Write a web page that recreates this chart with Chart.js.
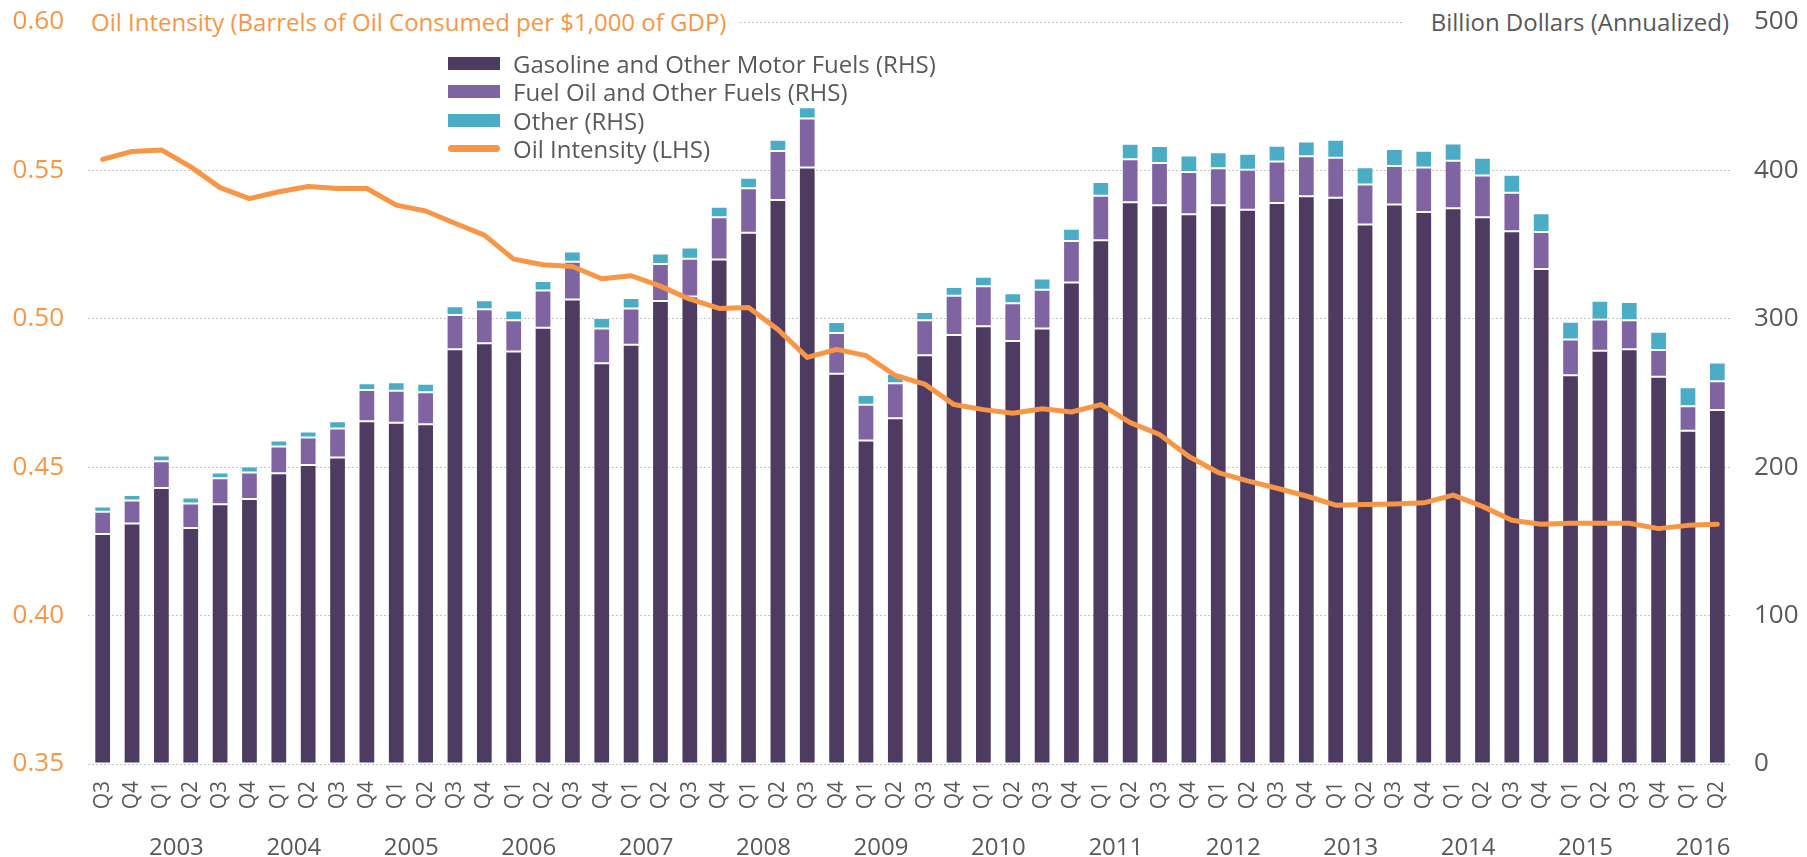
<!DOCTYPE html>
<html>
<head>
<meta charset="utf-8">
<script src="https://cdn.jsdelivr.net/npm/chart.js@4.4.0/dist/chart.umd.min.js"></script>
<style>
    body { margin: 0; background: #fff; }
    #wrap { position: relative; width: 1807px; height: 857px; font-family: "Open Sans", sans-serif; }
    canvas { display: block; }
    .ttl { position: absolute; top: 5px; height: 34px; line-height: 34px; font-size: 24px; background: #fff; white-space: nowrap; }
    #ttlLeft { left: 88px; width: 650px; padding-left: 3px; color: #F79646; box-sizing: border-box; }
    #ttlRight { left: 1404px; width: 328px; text-align: right; color: #58595b; padding-right: 3px; box-sizing: border-box; }
    #legend { position: absolute; left: 448px; top: 49px; font-size: 24px; color: #58595b; }
    .row { height: 28.5px; display: flex; align-items: center; white-space: nowrap; }
    .sw { width: 52px; height: 13px; margin-right: 13px; }
    .ln { width: 52px; height: 7px; border-radius: 4px; margin-right: 13px; }
</style>
</head>
<body>
<div id="wrap">
    <canvas id="oilChart" width="1807" height="857"></canvas>
    <div class="ttl" id="ttlLeft">Oil Intensity (Barrels of Oil Consumed per $1,000 of GDP)</div>
    <div class="ttl" id="ttlRight">Billion Dollars (Annualized)</div>
    <div id="legend"></div>
</div>
<script>
// quarters from 2002 Q3 to 2016 Q2
const quarters = ['Q3','Q4',
    'Q1','Q2','Q3','Q4', 'Q1','Q2','Q3','Q4', 'Q1','Q2','Q3','Q4', 'Q1','Q2','Q3','Q4',
    'Q1','Q2','Q3','Q4', 'Q1','Q2','Q3','Q4', 'Q1','Q2','Q3','Q4', 'Q1','Q2','Q3','Q4',
    'Q1','Q2','Q3','Q4', 'Q1','Q2','Q3','Q4', 'Q1','Q2','Q3','Q4', 'Q1','Q2','Q3','Q4',
    'Q1','Q2','Q3','Q4', 'Q1','Q2'];
const years = [2002,2002,
    2003,2003,2003,2003, 2004,2004,2004,2004, 2005,2005,2005,2005, 2006,2006,2006,2006,
    2007,2007,2007,2007, 2008,2008,2008,2008, 2009,2009,2009,2009, 2010,2010,2010,2010,
    2011,2011,2011,2011, 2012,2012,2012,2012, 2013,2013,2013,2013, 2014,2014,2014,2014,
    2015,2015,2015,2015, 2016,2016];

// billion dollars, annualized (RHS)
const gasoline = [155,162,186,159,175,178.5, 196,201.5,206.5,231, 230,229,279.5,283.5,
    278,294,313,270, 282.5,312,315,340, 358,380,402,263, 218,233,275.5,289,
    295,285,293.5,324.5, 353,378.5,376.5,370.5, 376.5,373.5,378,382.5, 381.5,363.5,377,372,
    374.5,368.5,359,333.5, 262,278.5,279.5,261, 224.5,238.5];
const fuelOil = [15,15.5,18,16.5,17.5,18, 18,18.5,19.5,21, 21.5,21.5,23,23,
    21,25,25.5,23.5, 24.5,25,25.5,28.5, 30,33,33,27.5, 24,23.5,23.5,26.5,
    27,25.5,26,28, 30,29,28.5,28.5, 25,27,28,27, 27,27,26,30,
    32,28,26,25, 24,21,19.5,18, 16.5,19.5];
const other = [3.5,3.8,3.8,4,4,4, 4,4,5,4.6, 5.8,5.8,6,6,
    6.6,6.4,6.8,7, 7,7,7.6,7, 7,7.6,7.6,7.3, 6.7,6.5,5.6,6,
    6.4,6.7,7.6,8.2, 9.1,10.5,11.4,11, 10.8,10.8,10.6,10, 12.2,11.6,11.5,11.3,
    11.7,12,12,12.6, 12,12.6,12.3,12.3, 12.9,12.6];

// barrels of oil per $1,000 of GDP (LHS)
const oilIntensity = [0.5537,0.5564,0.5569,0.5512,0.5442,0.5405,0.5428,0.5446,0.5439,0.5439,
    0.5383,0.5363,0.5322,0.5282,0.5201,0.5182,0.5176,0.5135,0.5145,0.5110,
    0.5066,0.5035,0.5038,0.4964,0.4870,0.4897,0.4876,0.4809,0.4780,0.4711,
    0.4694,0.4682,0.4697,0.4686,0.4711,0.4650,0.4610,0.4536,0.4482,0.4454,
    0.4429,0.4403,0.4372,0.4374,0.4376,0.4380,0.4406,0.4368,0.4321,0.4308,
    0.4311,0.4311,0.4311,0.4293,0.4304,0.4308];

const seriesNames = ['Gasoline and Other Motor Fuels (RHS)', 'Fuel Oil and Other Fuels (RHS)', 'Other (RHS)', 'Oil Intensity (LHS)'];
const seriesColors = ['#4D3B61', '#8064A2', '#4BACC6', '#F79646'];

const textGray = '#58595b';
const fontFamily = '"Open Sans", sans-serif';

function buildLegend() {
    const legend = document.getElementById('legend');
    seriesNames.forEach((name, i) => {
        const row = document.createElement('div');
        row.className = 'row';
        const sw = document.createElement('span');
        sw.className = i === 3 ? 'ln' : 'sw';
        sw.style.background = seriesColors[i];
        row.appendChild(sw);
        row.appendChild(document.createTextNode(name));
        legend.appendChild(row);
    });
}

function barSet(idx, values) {
    return {
        type: 'bar',
        label: seriesNames[idx],
        data: values,
        backgroundColor: seriesColors[idx],
        borderColor: 'rgba(255,255,255,0.3)',
        borderWidth: 1,
        borderSkipped: false,
        yAxisID: 'y1',
        stack: 'spend',
        barPercentage: 0.57,
        categoryPercentage: 1,
        order: 1
    };
}

// vertical axes: keep the tick padding from pushing the plot area down
function fixVertical(width) {
    return s => {
        s.width = width;
        s.paddingTop = 0;
        s.paddingBottom = 0;
    };
}

function renderChart() {
    const ctx = document.getElementById('oilChart').getContext('2d');
    return new Chart(ctx, {
        data: {
            labels: quarters,
            datasets: [
                {
                    type: 'line',
                    label: seriesNames[3],
                    data: oilIntensity,
                    borderColor: seriesColors[3],
                    borderWidth: 5,
                    borderCapStyle: 'round',
                    borderJoinStyle: 'round',
                    pointRadius: 0,
                    tension: 0,
                    yAxisID: 'y',
                    order: 0
                },
                barSet(0, gasoline),
                barSet(1, fuelOil),
                barSet(2, other)
            ]
        },
        options: {
            responsive: false,
            animation: false,
            devicePixelRatio: 1,
            layout: { padding: { top: 22, left: 0, right: 0, bottom: 0 } },
            plugins: { legend: { display: false }, tooltip: { enabled: false } },
            scales: {
                x: {
                    stacked: true,
                    weight: 0,
                    grid: { display: false, drawTicks: false },
                    border: { display: false },
                    ticks: {
                        autoSkip: false, minRotation: 90, maxRotation: 90,
                        color: textGray, font: { family: fontFamily, size: 21 }, padding: 17
                    },
                    afterFit: s => { s.height = 70; }
                },
                x2: {
                    type: 'category',
                    position: 'bottom',
                    weight: 1,
                    offset: true,
                    grid: { display: false, drawTicks: false },
                    border: { display: false },
                    ticks: {
                        autoSkip: false, maxRotation: 0, minRotation: 0,
                        labelOffset: 15, padding: 0,
                        color: textGray, font: { family: fontFamily, size: 24 },
                        callback: (v, i) => quarters[i] === 'Q1' ? String(years[i]) : ''
                    },
                    afterFit: s => { s.height = 23; }
                },
                y: {
                    position: 'left',
                    min: 0.35, max: 0.60,
                    grid: { display: false, drawTicks: false },
                    border: { display: false },
                    ticks: {
                        stepSize: 0.05, padding: 24,
                        color: '#F79646', font: { family: fontFamily, size: 26 },
                        callback: v => v.toFixed(2)
                    },
                    afterFit: fixVertical(88)
                },
                y1: {
                    position: 'right',
                    stacked: true,
                    min: 0, max: 500,
                    grid: { color: '#c4c4c4', lineWidth: 1, drawTicks: false },
                    border: { display: false, dash: [2, 2] },
                    ticks: {
                        stepSize: 100, padding: 22,
                        color: textGray, font: { family: fontFamily, size: 26 }
                    },
                    afterFit: fixVertical(75)
                }
            }
        }
    });
}

buildLegend();
renderChart();
</script>
</body>
</html>
